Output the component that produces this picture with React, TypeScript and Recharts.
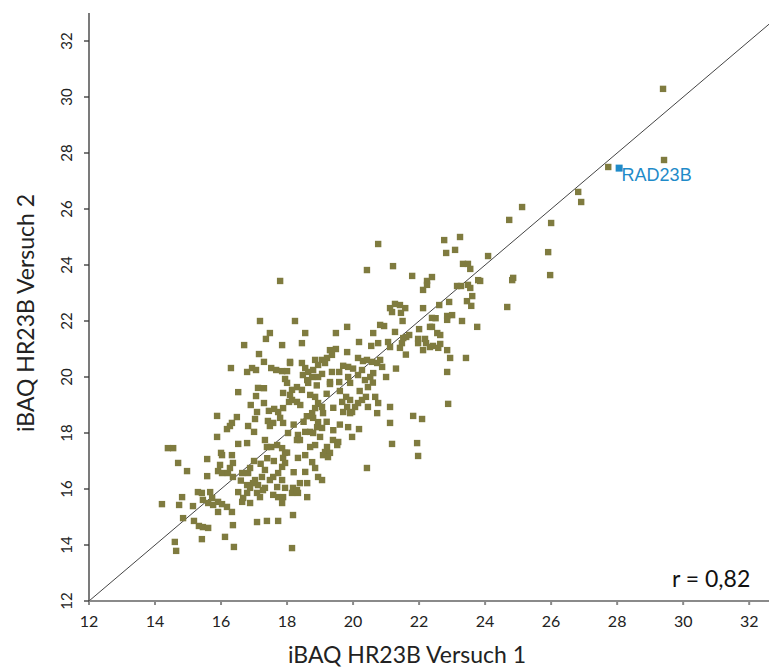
import { ScatterChart, Scatter, XAxis, YAxis, ReferenceLine, LabelList } from 'recharts'

// iBAQ values (log2) per protein: [Versuch 1, Versuch 2]
const proteins: [number, number][] = [
  [29.39, 30.29], [29.42, 27.75], [27.73, 27.5], [26.82, 26.61], [26.91, 26.25],
  [25.12, 26.07], [24.73, 25.61], [26.0, 25.5], [24.09, 24.32], [25.91, 24.46],
  [23.85, 23.43], [24.82, 23.46], [24.85, 23.54], [25.97, 23.64],
  [20.76, 24.75], [20.42, 23.82], [21.21, 23.96], [22.76, 24.89], [23.24, 25.0],
  [22.82, 24.43], [23.09, 24.54], [21.79, 23.61], [22.39, 23.57], [22.24, 23.43],
  [22.24, 23.29], [22.12, 23.11], [23.33, 24.04], [23.48, 24.04], [23.55, 23.86],
  [23.15, 23.25], [23.27, 23.25], [23.48, 23.29], [23.55, 23.18], [23.79, 23.46],
  [23.61, 22.89], [23.45, 22.71], [23.58, 22.54], [22.91, 22.68], [22.61, 22.57],
  [22.12, 22.46], [24.67, 22.5], [21.12, 22.46], [21.27, 22.61], [21.42, 22.57],
  [21.58, 22.46], [21.45, 22.29], [21.18, 22.32],
  [22.85, 22.18], [23.0, 22.21], [22.85, 22.04], [23.3, 22.0], [23.76, 21.79],
  [22.39, 22.11], [22.39, 21.79], [22.55, 21.57], [22.64, 21.5], [22.42, 21.11],
  [22.58, 21.04], [22.64, 21.18], [22.85, 20.96], [22.94, 20.68], [23.42, 20.68],
  [22.85, 20.18], [22.88, 19.04],
  [18.24, 22.0], [18.55, 21.57], [18.45, 21.21], [19.48, 21.57], [19.82, 21.79],
  [20.82, 21.86], [20.94, 21.82], [20.61, 21.57], [21.27, 21.61], [22.0, 21.71],
  [22.33, 21.79], [21.61, 21.43], [21.7, 21.5], [21.97, 21.36], [22.18, 21.36],
  [22.21, 21.21], [21.97, 21.21], [22.33, 21.07], [22.12, 20.96], [20.18, 21.25],
  [20.55, 21.11], [20.76, 21.21], [21.06, 21.25], [21.12, 21.07], [21.48, 21.21],
  [21.42, 21.04], [21.52, 21.39], [19.3, 20.96], [19.48, 21.0], [19.82, 20.89],
  [19.36, 20.79], [19.21, 20.68], [18.85, 20.61], [19.06, 20.61], [18.94, 20.43],
  [19.15, 20.5], [18.55, 20.32], [18.64, 20.18], [18.48, 20.07], [18.79, 20.25],
  [18.76, 20.0], [18.61, 19.89], [18.09, 20.5], [18.45, 20.5], [19.36, 20.18],
  [19.58, 20.18], [19.3, 19.82], [19.58, 19.82], [19.06, 20.11], [18.94, 20.0],
  [19.85, 20.36], [20.15, 20.68], [20.3, 20.57], [20.42, 20.61], [20.58, 20.54],
  [20.73, 20.5], [20.82, 20.61], [20.61, 20.14], [20.52, 20.0], [20.88, 20.36],
  [19.85, 20.0], [19.91, 19.79], [20.15, 20.07], [20.27, 20.25], [20.36, 19.89],
  [20.45, 19.64], [20.39, 19.29], [20.27, 19.18], [20.15, 19.07], [20.06, 18.93],
  [19.97, 18.75], [19.79, 19.29], [19.91, 19.18], [19.67, 19.11], [19.82, 18.93],
  [19.7, 18.75], [19.91, 18.71], [20.67, 19.29], [20.76, 19.07], [20.45, 18.93],
  [20.73, 18.71], [21.12, 18.93], [21.12, 18.36], [21.82, 18.61], [22.09, 18.5],
  [21.18, 17.61], [21.94, 17.64], [21.97, 17.18], [20.42, 16.75], [19.97, 17.86],
  [20.18, 18.14], [19.85, 18.21], [19.39, 17.75], [19.52, 17.57], [19.55, 17.68],
  [19.21, 17.5], [19.15, 17.32], [19.3, 17.29], [19.09, 17.21], [19.24, 17.14],
  [18.64, 19.79], [18.3, 19.64], [18.15, 19.54], [18.45, 19.54], [18.7, 19.36],
  [18.85, 19.29], [18.94, 19.07], [19.06, 18.93], [18.85, 18.89], [19.09, 18.71],
  [18.76, 18.71], [18.79, 18.54], [18.94, 18.39], [18.91, 18.21], [19.06, 18.18],
  [18.7, 18.04], [18.55, 18.04], [18.79, 18.0], [19.0, 17.86], [18.33, 17.93],
  [18.39, 17.75], [18.85, 17.57], [18.7, 17.5], [18.55, 17.21], [18.33, 17.11],
  [18.76, 16.96], [18.55, 16.61], [18.85, 16.75], [18.94, 16.43], [19.06, 16.32],
  [18.39, 16.21], [18.61, 16.21], [18.18, 16.04], [18.33, 15.86], [18.61, 15.71],
  [18.15, 15.86], [18.18, 15.07], [18.15, 13.89],
  [17.18, 22.0], [17.48, 21.57], [17.36, 21.36], [16.7, 21.14], [17.85, 21.14],
  [17.15, 20.82], [17.3, 20.54], [18.09, 20.54], [16.3, 20.32], [16.79, 20.18],
  [16.94, 20.32], [17.06, 20.25], [17.52, 20.32], [17.67, 20.25], [17.85, 20.21],
  [18.0, 20.21], [17.94, 19.93], [18.0, 19.79], [16.52, 19.46], [17.12, 19.61],
  [17.06, 19.32], [17.88, 19.43], [18.09, 19.36], [18.15, 19.18], [18.3, 19.11],
  [18.06, 19.11], [17.3, 19.07], [17.09, 18.75], [17.45, 18.79], [17.61, 18.86],
  [17.73, 18.75], [17.88, 18.89], [17.42, 18.43], [17.58, 18.36], [17.48, 18.25],
  [17.79, 18.54], [17.88, 18.36], [15.88, 18.61], [16.48, 18.57], [16.33, 18.36],
  [16.27, 18.25], [16.18, 18.14], [17.03, 18.5], [16.82, 18.25], [17.0, 18.04],
  [15.88, 17.86], [16.52, 17.61], [16.79, 17.64], [17.33, 17.75], [17.39, 17.5],
  [17.52, 17.5], [17.7, 17.57], [18.03, 18.0], [18.3, 17.75], [17.94, 17.29],
  [17.85, 17.46], [17.88, 17.11], [16.0, 17.29], [16.03, 17.21], [15.97, 16.86],
  [16.33, 17.21], [16.36, 16.93], [15.58, 17.07], [15.91, 16.64], [16.03, 16.57],
  [16.21, 16.57], [16.27, 16.75], [16.36, 16.43], [16.64, 16.57], [16.82, 16.57],
  [16.88, 16.75], [17.03, 16.32], [17.24, 16.43], [17.33, 16.68], [16.97, 16.21],
  [16.79, 16.14], [17.12, 16.14], [17.27, 15.96], [16.88, 16.04], [16.52, 15.89],
  [16.79, 15.86], [16.67, 15.68], [16.64, 15.54], [16.88, 15.5], [17.09, 15.86],
  [17.18, 15.71], [17.33, 16.04], [17.48, 16.32], [17.58, 16.43], [17.73, 16.57],
  [17.85, 16.79], [17.94, 16.93], [17.85, 16.32], [17.94, 16.04], [17.7, 16.07],
  [17.73, 15.71], [17.58, 15.79], [17.88, 15.71], [17.85, 15.5], [18.3, 15.96],
  [15.58, 16.46], [15.42, 15.86], [15.67, 15.89], [15.45, 15.61], [15.73, 15.68],
  [15.61, 15.5], [15.91, 15.54], [15.76, 15.43], [16.03, 15.46], [16.18, 15.36],
  [16.33, 15.18], [15.91, 15.18], [15.33, 14.68], [15.45, 14.64], [15.61, 14.61],
  [16.36, 14.71], [16.12, 14.29], [16.39, 13.93], [15.42, 14.21], [17.09, 14.82],
  [17.39, 14.86], [17.73, 14.86],
  [14.39, 17.46], [14.55, 17.46], [14.7, 16.93], [14.97, 16.64], [14.21, 15.46],
  [14.73, 15.43], [14.82, 15.71], [14.85, 14.96], [15.15, 15.39], [15.18, 14.86],
  [15.3, 15.89], [14.6, 14.11], [14.64, 13.79], [17.79, 23.43],
  // dense core, estimated
  [18.4, 19.0], [18.6, 18.6], [18.2, 18.3], [18.5, 18.4], [19.2, 18.4],
  [19.4, 18.9], [19.6, 19.5], [19.2, 19.4], [18.9, 19.7], [19.3, 19.75],
  [17.4, 17.1], [17.6, 17.0], [17.2, 16.9], [16.6, 16.3], [17.0, 17.0],
  [20.0, 20.3], [20.2, 19.5], [19.7, 20.4], [20.6, 19.8], [21.0, 20.0],
  [21.3, 20.3], [21.6, 20.8], [21.5, 22.0], [22.5, 22.1], [19.6, 18.3],
  [19.4, 18.1], [18.0, 17.3], [18.2, 16.6], [16.9, 19.0], [17.3, 19.6],
]

const highlighted: [number, number][] = [[28.06, 27.46]]
const highlightNames = ['RAD23B']

const xTicks = [12, 14, 16, 18, 20, 22, 24, 26, 28, 30, 32]
const yTicks = [12, 14, 16, 18, 20, 22, 24, 26, 28, 30, 32]

const xTitle = 'iBAQ HR23B Versuch 1'
const yTitle = 'iBAQ HR23B Versuch 2'
const corrText = 'r = 0,82'

const FONT = 'Lato, "Open Sans", sans-serif'
const OLIVE = '#7f7b3f'
const BLUE = '#1f8bc9'

const proteinData = proteins.map(([x, y]) => ({ x, y }))
const highlightData = highlighted.map(([x, y], i) => ({ x, y, name: highlightNames[i] }))

const SquareDot = (props: any) => {
  const { cx, cy } = props
  return <rect x={cx - 3.2} y={cy - 3.2} width={6.4} height={6.4} fill={OLIVE} />
}

const BlueDot = (props: any) => {
  const { cx, cy } = props
  return <rect x={cx - 3.5} y={cy - 3.5} width={7} height={7} fill={BLUE} />
}

const YTick = (props: any) => {
  const { x, y, payload } = props
  const tx = x - 15
  return (
    <text
      x={tx}
      y={y}
      transform={`rotate(-90 ${tx} ${y})`}
      textAnchor="middle"
      dy="0.35em"
      fontSize={15}
      fontFamily={FONT}
      fill="#222"
    >
      {payload.value}
    </text>
  )
}

const RadLabel = (props: any) => {
  const { x, y, value } = props
  return (
    <text x={x + 7} y={y + 17} fontSize={18} fontFamily='"Liberation Sans", Arial, sans-serif' fill={BLUE}>
      {value}
    </text>
  )
}

export default function App() {
  return (
    <div style={{ position: 'absolute', left: 0, top: 0, width: 769, height: 667, background: '#fff' }}>
      <ScatterChart width={769} height={667} margin={{ top: 13, right: 0, bottom: 36, left: 0 }}>
        <XAxis
          type="number"
          dataKey="x"
          domain={[12, 32.6]}
          ticks={xTicks}
          allowDataOverflow
          height={30}
          stroke="#8a8a8a"
          strokeWidth={2}
          tickSize={4}
          tickMargin={11}
          tick={{ fontSize: 16, fontFamily: FONT, fill: '#222' }}
          label={{
            content: () => (
              <text x={407} y={663} textAnchor="middle" fontSize={23} fontFamily={FONT} fill="#222">
                {xTitle}
              </text>
            ),
          }}
        />
        <YAxis
          type="number"
          dataKey="y"
          domain={[12, 33]}
          ticks={yTicks}
          allowDataOverflow
          width={89}
          stroke="#333"
          strokeWidth={1.3}
          tickSize={5}
          tickMargin={2}
          tick={<YTick />}
          label={{
            content: () => (
              <text
                x={26}
                y={313}
                transform="rotate(-90 26 313)"
                textAnchor="middle"
                dy="0.35em"
                fontSize={23}
                fontFamily={FONT}
                fill="#222"
              >
                {yTitle}
              </text>
            ),
          }}
        />
        <Scatter data={proteinData} shape={<SquareDot />} isAnimationActive={false} />
        <Scatter data={highlightData} shape={<BlueDot />} isAnimationActive={false}>
          <LabelList dataKey="name" content={<RadLabel />} />
        </Scatter>
        <ReferenceLine
          segment={[{ x: 12, y: 12 }, { x: 32.6, y: 32.6 }]}
          stroke="#444"
          strokeWidth={1}
        />
      </ScatterChart>
      <div
        style={{
          position: 'absolute',
          left: 672,
          top: 563,
          fontFamily: FONT,
          fontSize: 23,
          color: '#111',
          lineHeight: '30px',
          whiteSpace: 'nowrap',
        }}
      >
        {corrText}
      </div>
    </div>
  )
}
